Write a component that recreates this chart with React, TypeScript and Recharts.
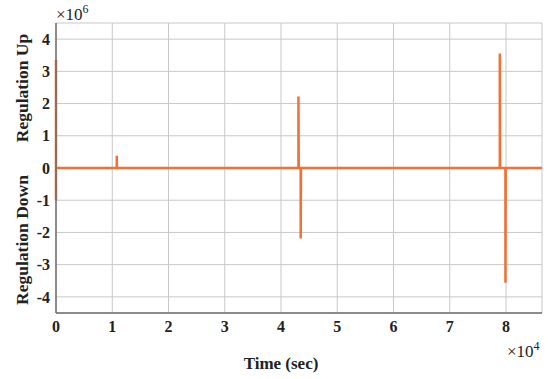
import React from "react";
import { LineChart, Line, XAxis, YAxis, CartesianGrid } from "recharts";

const times = [0, 0, 0, 10800, 10800, 10850, 43100, 43100, 43150, 43500, 43500, 43550, 78900, 78900, 78950, 79900, 79900, 79950, 86400];
const values = [3.35e6, -1.0e6, 0, 0, 0.38e6, 0, 0, 2.22e6, 0, 0, -2.19e6, 0, 0, 3.55e6, 0, 0, -3.56e6, 0, 0];
const xTicks = [0, 10000, 20000, 30000, 40000, 50000, 60000, 70000, 80000];
const yTicks = [-4e6, -3e6, -2e6, -1e6, 0, 1e6, 2e6, 3e6, 4e6];

const data = times.map((t, i) => ({ t, v: values[i] }));

const font = "'Liberation Serif', 'Times New Roman', serif";
const tickStyle = { fontFamily: font, fontWeight: 700, fontSize: 16, fill: "#222" };

export default function App() {
  return (
    <div style={{ position: "absolute", left: 0, top: 0, width: 550, height: 379, background: "#fff" }}>
      <LineChart width={550} height={379} data={data} margin={{ top: 23, right: 8, bottom: 0, left: 0 }}>
        <CartesianGrid stroke="#c8c8c8" strokeWidth={1} />
        <XAxis
          dataKey="t"
          type="number"
          domain={[0, 86400]}
          ticks={xTicks}
          tickFormatter={(v: number) => String(v / 10000)}
          height={66}
          tick={tickStyle}
          tickLine={false}
          tickMargin={2}
          axisLine={{ stroke: "#6e6e6e", strokeWidth: 1.5 }}
          interval={0}
        />
        <XAxis xAxisId="top" orientation="top" type="number" domain={[0, 86400]} height={0} tick={false} tickLine={false} axisLine={{ stroke: "#6e6e6e", strokeWidth: 1.5 }} />
        <YAxis
          type="number"
          domain={[-4.5e6, 4.5e6]}
          ticks={yTicks}
          tickFormatter={(v: number) => String(Math.round(v / 1e6))}
          width={56}
          tick={tickStyle}
          tickLine={false}
          tickMargin={0}
          axisLine={{ stroke: "#6e6e6e", strokeWidth: 1.5 }}
          interval={0}
        />
        <YAxis yAxisId="right" orientation="right" type="number" domain={[-4.5e6, 4.5e6]} width={0} tick={false} tickLine={false} axisLine={{ stroke: "#6e6e6e", strokeWidth: 1.5 }} />
        <Line dataKey="v" type="linear" stroke="#F07134" strokeWidth={2.5} dot={false} isAnimationActive={false} />
      </LineChart>
      <svg width={550} height={379} style={{ position: "absolute", left: 0, top: 0, pointerEvents: "none" }}>
        <text x={0} y={0} transform="translate(28,88) rotate(-90)" textAnchor="middle" fontFamily={font} fontWeight={700} fontSize={17.5} fill="#222">Regulation Up</text>
        <text x={0} y={0} transform="translate(28,240) rotate(-90)" textAnchor="middle" fontFamily={font} fontWeight={700} fontSize={17.5} fill="#222">Regulation Down</text>
        <text x={281} y={369} textAnchor="middle" fontFamily={font} fontWeight={700} fontSize={17} fill="#222">Time (sec)</text>
        <text x={56} y={20} fontFamily={font} fontSize={17} fill="#222">×10<tspan dy={-7} fontSize={12}>6</tspan></text>
        <text x={507} y={357} fontFamily={font} fontSize={17} fill="#222">×10<tspan dy={-7} fontSize={12}>4</tspan></text>
      </svg>
    </div>
  );
}
